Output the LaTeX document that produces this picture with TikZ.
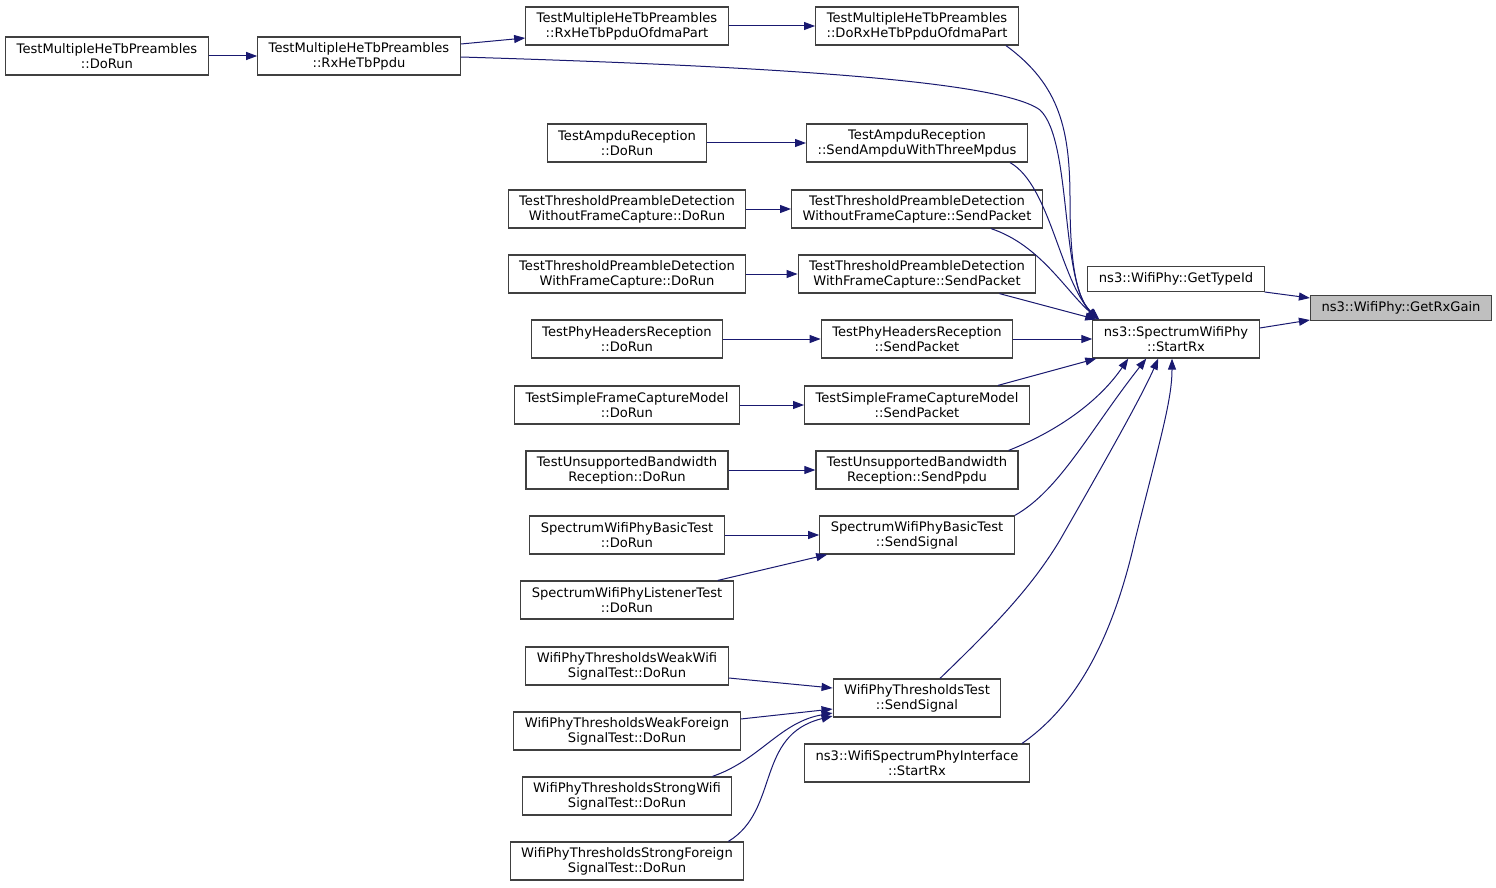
\documentclass[tikz,border=0pt]{standalone}
\usepackage{fontspec}
\setmainfont{DejaVu Sans}
\usepackage{tikz}
\usetikzlibrary{arrows.meta, positioning}
\definecolor{borde}{RGB}{64,64,64}
\definecolor{llamada}{RGB}{25,25,112}
\tikzset{
  func/.style={rectangle, draw=borde, fill=white, line width=1.2pt,
    inner xsep=11pt, inner ysep=3pt, minimum height=38pt, align=center,
    font=\fontsize{13.1}{15}\selectfont},
  funcuna/.style={func, minimum height=25pt},
  funcsel/.style={funcuna, fill=black!25},
  call/.style={-{Triangle[length=11pt,width=8pt]}, line width=1pt, color=llamada}
}
\begin{document}
\begin{tikzpicture}[x=1pt, y=-1pt]
  \useasboundingbox[fill=white] (0,0) rectangle (1496,888);
  % right part
  \node[funcsel] (rxgain) at (1401,308) {ns3::WifiPhy::GetRxGain};
  \node[funcuna] (typeid) at (1176,279) {ns3::WifiPhy::GetTypeId};
  \node[func] (startrx) at (1176,339) {ns3::SpectrumWifiPhy\\::StartRx};
  % middle column
  \node[func] (dorxofdma) at (917,26) {TestMultipleHeTbPreambles\\::DoRxHeTbPpduOfdmaPart};
  \node[func] (sendampdu) at (917,143) {TestAmpduReception\\::SendAmpduWithThreeMpdus};
  \node[func] (sendnocap) at (917,209) {TestThresholdPreambleDetection\\WithoutFrameCapture::SendPacket};
  \node[func] (sendcap) at (917,274) {TestThresholdPreambleDetection\\WithFrameCapture::SendPacket};
  \node[func] (sendhdr) at (917,339) {TestPhyHeadersReception\\::SendPacket};
  \node[func] (sendsfc) at (917,405) {TestSimpleFrameCaptureModel\\::SendPacket};
  \node[func] (sendppdu) at (917,470) {TestUnsupportedBandwidth\\Reception::SendPpdu};
  \node[func] (sigbasic) at (917,535) {SpectrumWifiPhyBasicTest\\::SendSignal};
  \node[func] (sigthr) at (917,698) {WifiPhyThresholdsTest\\::SendSignal};
  \node[func] (ifacerx) at (917,763) {ns3::WifiSpectrumPhyInterface\\::StartRx};
  % left column
  \node[func] (rxofdma) at (627,26) {TestMultipleHeTbPreambles\\::RxHeTbPpduOfdmaPart};
  \node[func] (rxppdu) at (359,56) {TestMultipleHeTbPreambles\\::RxHeTbPpdu};
  \node[func] (mhtrun) at (107,56) {TestMultipleHeTbPreambles\\::DoRun};
  \node[func] (ampdurun) at (627,143) {TestAmpduReception\\::DoRun};
  \node[func] (nocaprun) at (627,209) {TestThresholdPreambleDetection\\WithoutFrameCapture::DoRun};
  \node[func] (caprun) at (627,274) {TestThresholdPreambleDetection\\WithFrameCapture::DoRun};
  \node[func] (hdrrun) at (627,339) {TestPhyHeadersReception\\::DoRun};
  \node[func] (sfcrun) at (627,405) {TestSimpleFrameCaptureModel\\::DoRun};
  \node[func] (bwrun) at (627,470) {TestUnsupportedBandwidth\\Reception::DoRun};
  \node[func] (basicrun) at (627,535) {SpectrumWifiPhyBasicTest\\::DoRun};
  \node[func] (lstnrun) at (627,600) {SpectrumWifiPhyListenerTest\\::DoRun};
  \node[func] (weakwifi) at (627,666) {WifiPhyThresholdsWeakWifi\\SignalTest::DoRun};
  \node[func] (weakfor) at (627,731) {WifiPhyThresholdsWeakForeign\\SignalTest::DoRun};
  \node[func] (strongwifi) at (627,796) {WifiPhyThresholdsStrongWifi\\SignalTest::DoRun};
  \node[func] (strongfor) at (627,861) {WifiPhyThresholdsStrongForeign\\SignalTest::DoRun};
  % calls into GetRxGain
  \draw[call] (typeid.east |- 0,292) -- (rxgain.west |- 0,298);
  \draw[call] (startrx.east |- 0,328) -- (rxgain.west |- 0,320);
  % calls into StartRx
  \draw[call] (dorxofdma.south east) ++(-13,0) .. controls (1060,85) and (1070,130) .. (1070,200)
    .. controls (1070,270) and (1078,300) .. ([xshift=7]startrx.north west);
  \draw[call] (rxppdu.east |- 0,57) .. controls (760,66) and (1000,80) .. (1040,110)
    .. controls (1072,140) and (1060,280) .. ([xshift=5]startrx.north west);
  \draw[call] (sendampdu.south east) ++(-18,0) .. controls (1050,185) and (1060,280) .. ([xshift=6]startrx.north west);
  \draw[call] (sendnocap.south east) ++(-52,0) .. controls (1040,245) and (1065,290) .. ([xshift=6]startrx.north west);
  \draw[call] (sendcap.south east) ++(-37,0) -- ([xshift=4]startrx.north west);
  \draw[call] (sendhdr) -- (startrx);
  \draw[call] (sendsfc.north east) ++(-32,0) -- ([xshift=4]startrx.south west);
  \draw[call] (sendppdu.north east) ++(-10,0) .. controls (1060,430) and (1100,400) .. ([xshift=36]startrx.south west);
  \draw[call] (sigbasic.north east) .. controls (1060,490) and (1090,430) .. ([xshift=54]startrx.south west);
  \draw[call] (sigthr.north) ++(23,0) .. controls (990,630) and (1030,590) .. (1060,540)
    .. controls (1100,470) and (1140,400) .. ([xshift=66]startrx.south west);
  \draw[call] (ifacerx.north east) ++(-8,0) .. controls (1070,710) and (1110,650) .. (1135,540)
    .. controls (1160,440) and (1172,400) .. ([xshift=-4]startrx.south);
  % callers one rank further left
  \draw[call] (mhtrun) -- (rxppdu);
  \draw[call] (rxppdu.east |- 0,44) -- (rxofdma.west |- 0,38);
  \draw[call] (rxofdma) -- (dorxofdma);
  \draw[call] (ampdurun) -- (sendampdu);
  \draw[call] (nocaprun) -- (sendnocap);
  \draw[call] (caprun) -- (sendcap);
  \draw[call] (hdrrun) -- (sendhdr);
  \draw[call] (sfcrun) -- (sendsfc);
  \draw[call] (bwrun) -- (sendppdu);
  \draw[call] (basicrun) -- (sigbasic);
  \draw[call] (lstnrun.north east) ++(-16,0) -- ([xshift=8]sigbasic.south west);
  \draw[call] (weakwifi.east |- 0,678) -- (sigthr.west |- 0,688);
  \draw[call] (weakfor.east |- 0,719) -- (sigthr.west |- 0,709);
  \draw[call] (strongwifi.north east) ++(-20,0) .. controls (760,760) and (780,722) .. (sigthr.west |- 0,713);
  \draw[call] (strongfor.north east) ++(-16,0) .. controls (780,810) and (755,735) .. (sigthr.west |- 0,716);
\end{tikzpicture}
\end{document}
